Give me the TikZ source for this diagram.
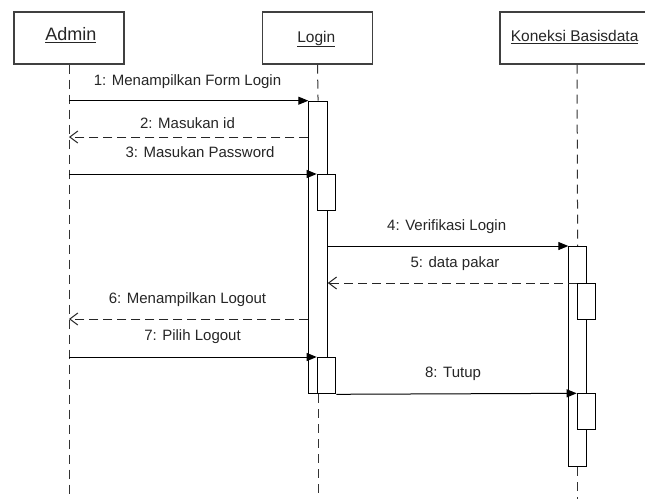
\documentclass[tikz,border=0pt]{standalone}
\usepackage{fontspec}
\setmainfont{Liberation Sans}
\usetikzlibrary{arrows.meta}
\begin{document}
\begin{tikzpicture}[x=1pt,y=-1pt,
  obj/.style={draw=black!75, line width=1.3pt, minimum width=110pt, minimum height=52pt, inner sep=0pt, fill=white},
  act/.style={draw=black, line width=1pt, fill=white, minimum width=18.5pt, inner sep=0pt, anchor=north west},
  life/.style={draw=black!80, line width=1pt, dash pattern=on 9pt off 6pt},
  call/.style={line width=1pt, -{Triangle[length=10pt,width=8pt]}},
  ret/.style={line width=1pt, draw=black!85, dash pattern=on 9pt off 5pt, -{Straight Barb[length=8pt,width=12pt]}},
  lbl/.style={font=\fontsize{15}{18}\selectfont, text=black!85, inner sep=0pt, anchor=base},
  ttl/.style={font=\fontsize{15.5}{18}\selectfont, text=black!85, inner sep=0pt, anchor=base}
]
\useasboundingbox (0,0) rectangle (645,499);
\clip (0,0) rectangle (645,499);
\fill[white] (0,0) rectangle (645,499);

% objects
\node[obj] (admin) at (69,38) {};
\node[obj] (login) at (317.5,38) {};
\node[obj, minimum width=154pt] (kon) at (577,38) {};
\node[ttl, font=\fontsize{18}{20}\selectfont] (tadmin) at (70.8,40.7) {\underline{Admin}};
\node[ttl] (tlogin) at (316.3,42) {\underline{Login}};
\node[ttl, anchor=base west] (tkon) at (510.7,41.7) {\underline{Koneksi Basisdata}};

% activation bars (positions only)
\coordinate (pb1) at (308.3,100.7);
\coordinate (pb2) at (316.7,174);
\coordinate (pb3) at (316.7,357);
\coordinate (pk1) at (568.3,246);
\coordinate (pk2) at (576.7,283);
\coordinate (pk3) at (576.7,393.3);

% lifelines
\path (pb1) node[act, minimum height=292.6pt, draw=none, fill=none] (b1) {};
\path (pk1) node[act, minimum height=220pt, minimum width=17.7pt, draw=none, fill=none] (k1) {};
\draw[life] (admin.south) -- (admin.south |- 0,499);
\draw[life] (login.south) -- (b1.north);
\draw[life] (b1.south) -- (b1.south |- 0,499);
\draw[life] (kon.south) -- (k1.north);
\draw[life] (k1.south) -- (k1.south |- 0,499);

% bars
\node[act, minimum height=292.6pt] at (pb1) {};
\node[act, minimum height=36pt, minimum width=18.6pt] (b2) at (pb2) {};
\node[act, minimum height=36.3pt, minimum width=18.6pt] (b3) at (pb3) {};
\node[act, minimum height=220pt, minimum width=17.7pt] at (pk1) {};
\node[act, minimum height=36.3pt, minimum width=18.6pt] (k2) at (pk2) {};
\node[act, minimum height=36pt, minimum width=18.6pt] (k3) at (pk3) {};

% messages
\draw[call] (admin.south |- b1.north) -- (b1.north west);
\draw[ret] (b1.west |- 0,137) -- (admin.south |- 0,137);
\draw[call] (admin.south |- b2.north) -- (b2.north west);
\draw[call] (b1.east |- k1.north) -- (k1.north west);
\draw[ret] (k2.north west) -- (b1.east |- k2.north);
\draw[ret] (b1.west |- 0,319) -- (admin.south |- 0,319);
\draw[call] (admin.south |- b3.north) -- (b3.north west);
\draw[call] (b3.south east) -- (k3.north west);

% labels
\node[lbl] (l1) at (187.5,85) {1: Menampilkan Form Login};
\node[lbl] (l2) at (187.5,128) {2: Masukan id};
\node[lbl] (l3) at (200,157) {3: Masukan Password};
\node[lbl] (l4) at (446.7,230) {4: Verifikasi Login};
\node[lbl] (l5) at (455,267) {5: data pakar};
\node[lbl] (l6) at (187.5,303.5) {6: Menampilkan Logout};
\node[lbl] (l7) at (192.5,340) {7: Pilih Logout};
\node[lbl] (l8) at (453,377) {8: Tutup};
\end{tikzpicture}
\end{document}
